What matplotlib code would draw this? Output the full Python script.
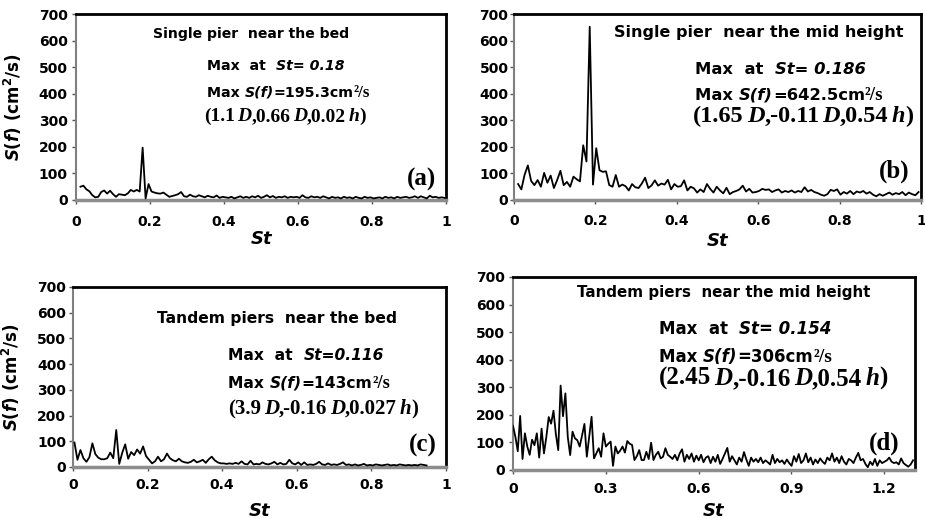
import numpy as np
import matplotlib
matplotlib.use('Agg')
import matplotlib.pyplot as plt

plt.rcParams['mathtext.fontset'] = 'custom'
plt.rcParams['mathtext.rm'] = 'DejaVu Sans:bold'
plt.rcParams['mathtext.it'] = 'DejaVu Sans:italic:bold'
plt.rcParams['mathtext.bf'] = 'DejaVu Sans:bold'

# spectra S(f) in cm^2/s, sampled on a uniform St grid (start, step)
GRID_A = (0.012, 0.008)
S_A = [50, 54, 40, 33, 18, 10, 12, 30, 36, 24,
       35, 22, 12, 22, 20, 18, 25, 38, 32, 38,
       32, 197, 6, 60, 32, 28, 25, 24, 28, 20,
       12, 15, 18, 22, 30, 14, 12, 20, 14, 12,
       18, 14, 10, 16, 12, 10, 17, 8, 12, 10,
       8, 12, 6, 10, 14, 8, 12, 8, 14, 10,
       16, 8, 12, 18, 10, 15, 8, 12, 10, 14,
       8, 12, 10, 12, 8, 18, 10, 8, 14, 10,
       12, 8, 14, 10, 6, 12, 8, 10, 6, 12,
       8, 10, 6, 12, 8, 6, 12, 8, 10, 6,
       8, 10, 6, 12, 8, 10, 6, 12, 8, 10,
       12, 8, 10, 14, 8, 14, 10, 6, 16, 10,
       12, 8, 10, 8]

GRID_B = (0.010, 0.008)
S_B = [60, 40, 95, 130, 72, 56, 75, 50, 102, 65,
       92, 45, 75, 110, 56, 68, 50, 88, 78, 70,
       206, 145, 652, 58, 195, 112, 106, 108, 56, 50,
       94, 50, 58, 52, 36, 60, 48, 45, 62, 84,
       45, 55, 74, 54, 62, 58, 76, 40, 60, 50,
       52, 74, 36, 50, 44, 28, 40, 30, 60, 42,
       28, 50, 36, 25, 46, 22, 30, 34, 40, 54,
       32, 42, 28, 30, 34, 42, 38, 40, 30, 36,
       40, 28, 34, 30, 36, 28, 34, 30, 48, 32,
       38, 30, 26, 20, 16, 22, 38, 34, 40, 20,
       30, 24, 34, 22, 32, 28, 34, 24, 30, 20,
       14, 22, 16, 22, 28, 20, 26, 22, 30, 18,
       28, 22, 18, 30]

GRID_C = (0.004, 0.008)
S_C = [95, 28, 66, 34, 20, 38, 92, 50, 36, 30,
       30, 34, 56, 34, 144, 12, 55, 88, 32, 58,
       46, 68, 52, 80, 42, 28, 14, 22, 40, 22,
       30, 52, 34, 26, 22, 32, 22, 18, 16, 20,
       28, 18, 22, 28, 16, 30, 40, 26, 18, 14,
       14, 12, 14, 12, 16, 12, 22, 12, 10, 24,
       10, 12, 10, 18, 12, 10, 14, 20, 10, 16,
       10, 12, 28, 14, 10, 18, 8, 18, 8, 10,
       8, 12, 20, 10, 8, 14, 8, 10, 8, 12,
       18, 8, 10, 6, 10, 6, 8, 12, 6, 8,
       6, 10, 8, 6, 8, 10, 6, 8, 6, 10,
       8, 6, 8, 6, 8, 6, 10, 8, 6]

GRID_D = (0.0, 0.0077)
S_D = [160, 120, 68, 196, 40, 133, 85, 55, 110, 90,
       133, 45, 150, 60, 120, 192, 168, 215, 130, 72,
       306, 195, 278, 120, 54, 139, 115, 108, 85, 125,
       167, 48, 120, 193, 42, 60, 79, 48, 133, 85,
       95, 103, 15, 85, 60, 70, 85, 63, 105, 95,
       91, 36, 50, 72, 36, 36, 66, 40, 99, 36,
       55, 66, 42, 48, 79, 55, 48, 40, 55, 35,
       60, 75, 30, 55, 40, 60, 30, 52, 35, 55,
       28, 45, 50, 25, 48, 30, 55, 22, 40, 60,
       80, 30, 50, 35, 20, 45, 30, 65, 38, 15,
       45, 30, 40, 28, 45, 25, 35, 28, 20, 55,
       25, 40, 28, 35, 22, 38, 25, 15, 50, 30,
       58, 25, 35, 60, 28, 45, 20, 38, 25, 42,
       30, 22, 45, 35, 60, 30, 45, 25, 50, 30,
       20, 40, 35, 25, 45, 62, 35, 40, 22, 10,
       30, 18, 40, 15, 35, 25, 30, 35, 45, 30,
       25, 28, 20, 42, 25, 18, 12, 20, 35]

Y_TICKS = [0, 100, 200, 300, 400, 500, 600, 700]
X_TICKS_1 = [0, 0.2, 0.4, 0.6, 0.8, 1.0]
X_LABELS_1 = ['0', '0.2', '0.4', '0.6', '0.8', '1']
X_TICKS_D = [0, 0.3, 0.6, 0.9, 1.2]
X_LABELS_D = ['0', '0.3', '0.6', '0.9', '1.2']

TITLES = ['Single pier  near the bed', 'Single pier  near the mid height',
          'Tandem piers  near the bed', 'Tandem piers  near the mid height']
PEAK_ST = ['St= 0.18', 'St= 0.186', 'St=0.116', 'St= 0.154']
PEAK_S = ['195.3', '642.5', '143', '306']
LOCATIONS = [('1.1', '0.66', '0.02'), ('1.65', '-0.11', '0.54'),
             ('3.9', '-0.16', '0.027'), ('2.45', '-0.16', '0.54')]
PANEL_LABELS = ['(a)', '(b)', '(c)', '(d)']

SANS = 'DejaVu Sans'
SERIF = 'Liberation Serif'

# layout (axes fractions) for each panel
LAYOUT = [
    dict(rect=[0.0822, 0.6139, 0.400, 0.359], title=(0.208, 0.871), mx=0.354,
         my=(0.699, 0.554), loc=(0.346, 0.425), lab=(0.895, 0.08),
         fs_t=10.1, fs=10.2, fs_serif=14, ylab=-0.1405, xlab=-0.161,
         xpad=8, ypad=3, xt=X_TICKS_1, xl=X_LABELS_1, xmax=1.0),
    dict(rect=[0.5557, 0.6139, 0.440, 0.359], title=(0.246, 0.876), mx=0.445,
         my=(0.677, 0.538), loc=(0.440, 0.42), lab=(0.897, 0.118),
         fs_t=11.5, fs=11.8, fs_serif=17.5, ylab=None, xlab=-0.172,
         xpad=7, ypad=1, xt=X_TICKS_1, xl=X_LABELS_1, xmax=1.0),
    dict(rect=[0.0789, 0.0985, 0.4032, 0.3475], title=(0.225, 0.80), mx=0.416,
         my=(0.594, 0.439), loc=(0.416, 0.294), lab=(0.90, 0.083),
         fs_t=11.2, fs=11.2, fs_serif=15, ylab=-0.137, xlab=-0.193,
         xpad=5, ypad=2, xt=X_TICKS_1, xl=X_LABELS_1, xmax=1.0),
    dict(rect=[0.5546, 0.0927, 0.4346, 0.3726], title=(0.159, 0.896), mx=0.363,
         my=(0.705, 0.56), loc=(0.363, 0.44), lab=(0.886, 0.104),
         fs_t=10.9, fs=12.0, fs_serif=18, ylab=None, xlab=-0.164,
         xpad=6, ypad=3, xt=X_TICKS_D, xl=X_LABELS_D, xmax=1.3),
]


def rich_line(ax, x, y, pieces):
    """Draw text pieces one after another on a common baseline."""
    prev = None
    for s, kw in pieces:
        if prev is None:
            prev = ax.text(x, y, s, transform=ax.transAxes,
                           ha='left', va='baseline', **kw)
        else:
            prev = ax.annotate(s, xy=(1, y), xycoords=(prev, ax.transAxes),
                               ha='left', va='baseline', **kw)
    return prev


fig = plt.figure(figsize=(9.25, 5.18), dpi=100)

series = [(GRID_A, S_A), (GRID_B, S_B), (GRID_C, S_C), (GRID_D, S_D)]

for i, ((start, step), vals) in enumerate(series):
    lay = LAYOUT[i]
    ax = fig.add_axes(lay['rect'])
    st = start + step * np.arange(len(vals))
    ax.plot(st, vals, color='black', lw=1.3, zorder=3)

    ax.set_xlim(0, lay['xmax'])
    ax.set_ylim(0, 700)
    ax.set_yticks(Y_TICKS)
    ax.set_xticks(lay['xt'])
    ax.set_xticklabels(lay['xl'])
    ax.tick_params(axis='both', direction='out', length=3, width=1,
                   color='#555555', labelsize=10)
    ax.tick_params(axis='x', pad=lay['xpad'])
    ax.tick_params(axis='y', pad=lay['ypad'])
    for lbl in ax.get_xticklabels() + ax.get_yticklabels():
        lbl.set_fontweight('bold')
        lbl.set_family('DejaVu Sans')

    ax.spines['top'].set(color='black', lw=2)
    ax.spines['right'].set(color='black', lw=2)
    ax.spines['left'].set(color='#808080', lw=1.5)
    ax.spines['bottom'].set(color='#8c8c8c', lw=2.5)

    ax.set_xlabel('St', fontsize=13, fontweight='bold', fontstyle='italic',
                  family='DejaVu Sans')
    ax.xaxis.set_label_coords(0.5, lay['xlab'])
    if lay['ylab'] is not None:
        ax.set_ylabel(r'$\mathit{S(f)}$ (cm$^{2}$/s)', fontsize=12,
                      fontweight='bold', family='DejaVu Sans')
        ax.yaxis.set_label_coords(lay['ylab'], 0.5)

    sans_b = dict(family=SANS, fontweight='bold', fontsize=lay['fs'])
    sans_bi = dict(family=SANS, fontweight='bold', fontstyle='italic',
                   fontsize=lay['fs'])
    serif_b = dict(family=SERIF, fontweight='bold', fontsize=lay['fs_serif'])
    serif_bi = dict(family=SERIF, fontweight='bold', fontstyle='italic',
                    fontsize=lay['fs_serif'])
    gap = dict(family=SERIF, fontweight='bold', fontsize=lay['fs_serif'] * 0.5)
    serif_s = dict(family=SERIF, fontweight='bold', fontsize=lay['fs'] + 2)

    ax.text(lay['title'][0], lay['title'][1], TITLES[i], transform=ax.transAxes,
            ha='left', va='baseline', family=SANS, fontweight='bold',
            fontsize=lay['fs_t'])

    rich_line(ax, lay['mx'], lay['my'][0],
              [('Max  at  ', sans_b), (PEAK_ST[i], sans_bi)])
    rich_line(ax, lay['mx'], lay['my'][1],
              [('Max ', sans_b), ('S(f)', sans_bi),
               ('=' + PEAK_S[i] + 'cm', sans_b), ('\u00b2/s', serif_s)])
    x_loc, y_loc, z_loc = LOCATIONS[i]
    rich_line(ax, lay['loc'][0], lay['loc'][1],
              [('(' + x_loc, serif_b), (' ', gap), ('D', serif_bi),
               (',' + y_loc, serif_b), (' ', gap), ('D', serif_bi),
               (',' + z_loc, serif_b), (' ', gap), ('h', serif_bi),
               (')', serif_b)])

    ax.text(lay['lab'][0], lay['lab'][1], PANEL_LABELS[i], transform=ax.transAxes,
            ha='left', va='baseline', family=SERIF, fontweight='bold',
            fontsize=18)

fig.savefig('out.png', dpi=100)
